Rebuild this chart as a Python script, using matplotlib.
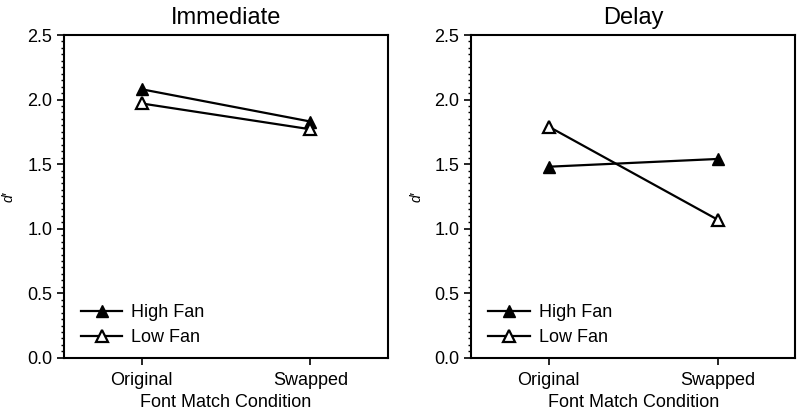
import matplotlib
matplotlib.use("Agg")
import matplotlib.pyplot as plt
from matplotlib.ticker import MultipleLocator, FormatStrFormatter

plt.rcParams["font.family"] = ["Liberation Sans", "DejaVu Sans"]

conditions = ["Original", "Swapped"]
panels = ["Immediate", "Delay"]
high_fan = {"Immediate": [2.08, 1.83], "Delay": [1.48, 1.54]}
low_fan = {"Immediate": [1.97, 1.77], "Delay": [1.79, 1.07]}

fig = plt.figure(figsize=(8, 4.17), dpi=100)
positions = [[0.080, 0.142, 0.405, 0.774], [0.589, 0.142, 0.405, 0.774]]

for pos, name in zip(positions, panels):
    ax = fig.add_axes(pos)
    x = range(len(conditions))
    ax.plot(x, high_fan[name], color="black", lw=1.6, marker="^", ms=8.5,
            mfc="black", mec="black", label="High Fan")
    ax.plot(x, low_fan[name], color="black", lw=1.6, marker="^", ms=8.5,
            mfc="white", mec="black", mew=1.6, label="Low Fan")

    ax.set_xlim(-0.46, 1.46)
    ax.set_ylim(0, 2.5)
    ax.set_xticks(list(x))
    ax.set_xticklabels(conditions)
    ax.yaxis.set_major_locator(MultipleLocator(0.5))
    ax.yaxis.set_minor_locator(MultipleLocator(0.05))
    ax.yaxis.set_major_formatter(FormatStrFormatter("%.1f"))
    ax.tick_params(axis="both", which="major", direction="out", length=5,
                   width=1.2, labelsize=13)
    ax.tick_params(axis="x", which="major", pad=5)
    ax.tick_params(axis="y", which="minor", direction="out", length=2.5, width=1)
    for s in ax.spines.values():
        s.set_linewidth(1.5)

    ax.set_title(name, fontsize=17, pad=8)
    ax.set_xlabel("Font Match Condition", fontsize=13, labelpad=4)
    ax.set_ylabel("d\u2032", fontsize=10, style="italic", labelpad=8)
    ax.legend(loc="lower left", frameon=False, fontsize=13, handlelength=2.3,
              handletextpad=0.5, borderaxespad=0.0, labelspacing=0.45,
              bbox_to_anchor=(0.03, 0.013))

fig.savefig("out.png", dpi=100)
